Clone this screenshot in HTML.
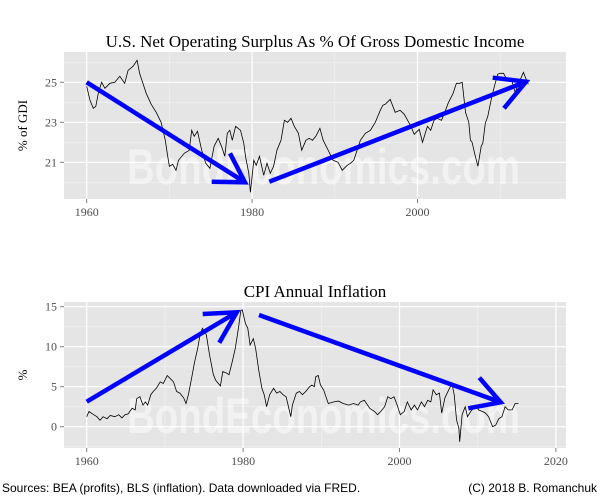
<!DOCTYPE html>
<html><head><meta charset="utf-8"><style>
body{margin:0;background:#fff;}
svg{display:block;}
text{font-family:"Liberation Serif",serif;}
</style></head><body>
<svg id="c" width="600" height="500"></svg>
<script>
const topYears=[1960,1960.4,1960.8,1961.1,1961.4,1961.8,1962.2,1962.8,1963.4,1964,1964.6,1965,1965.6,1966.1,1966.4,1966.8,1967.2,1967.8,1968.4,1969,1969.5,1969.8,1970,1970.4,1970.8,1971.1,1971.8,1972.4,1972.7,1973,1973.4,1973.9,1974.4,1974.9,1975.4,1975.9,1976.3,1976.7,1977,1977.3,1977.6,1978,1978.6,1979,1979.2,1979.6,1979.8,1980.2,1980.5,1980.9,1981.4,1981.8,1982.2,1982.6,1983,1983.5,1983.9,1984.3,1984.7,1985.1,1985.6,1986,1986.5,1986.9,1987.3,1987.7,1988.2,1988.6,1989.2,1989.8,1990.4,1990.9,1991.5,1991.9,1992.3,1992.7,1993.1,1993.7,1994.3,1994.9,1995.5,1995.8,1996.1,1996.7,1997.3,1997.9,1998.4,1998.8,1999.2,1999.6,2000.2,2000.6,2001.2,2001.6,2002,2002.4,2002.9,2003.3,2003.7,2004.3,2004.7,2005.1,2005.4,2005.8,2006.2,2006.4,2006.6,2006.9,2007.3,2007.7,2007.9,2008.2,2008.5,2008.7,2009,2009.3,2009.7,2010,2010.4,2010.8,2011.4,2011.8,2012.4,2012.8,2013.1,2013.4,2013.7,2014,2014.3,2014.6,2014.9],
topVals=[24.8,24.1,23.7,23.8,24.45,25.0,24.7,24.95,25.0,25.3,24.95,25.6,25.8,26.1,25.45,24.95,24.45,23.9,23.5,23.0,22.1,21.3,20.8,20.9,20.6,21.1,21.45,21.6,22.6,22.3,22.55,21.6,20.95,20.7,21.8,22.2,21.8,21.3,22.45,22.6,22.1,22.8,22.6,21.95,21.3,20.45,19.5,21.1,20.85,21.3,20.35,20.95,20.45,20.8,21.6,22.1,23.1,23.0,23.2,22.8,22.45,21.6,22.1,22.2,22.1,22.3,22.7,22.1,21.6,21.1,21.0,20.6,20.85,20.95,21.1,21.6,22.1,22.45,22.6,23.0,23.6,23.85,23.9,24.15,23.5,23.6,23.4,23.1,22.8,22.4,22.65,22.0,22.8,22.6,23.1,23.2,23.1,23.5,23.95,24.45,24.95,24.95,25.0,23.5,23.0,22.1,22.0,21.45,20.8,21.8,21.95,22.95,23.3,23.7,24.3,24.8,25.4,25.45,25.45,25.15,25.1,24.5,25.1,25.5,25.2,24.9];
const cpiYears=[1960,1960.3,1960.9,1961.3,1961.7,1962.1,1962.6,1963,1963.6,1964.1,1964.5,1964.9,1965.3,1965.8,1966.2,1966.4,1966.8,1967.2,1967.5,1967.8,1968.2,1968.5,1968.9,1969.4,1969.8,1970.3,1970.7,1971.1,1971.5,1971.9,1972.4,1972.7,1973,1973.4,1973.8,1974.2,1974.5,1974.8,1975.3,1975.7,1976.2,1976.5,1977.1,1977.4,1977.9,1978.2,1978.6,1979,1979.4,1979.7,1979.9,1980.3,1980.6,1980.9,1981.3,1981.6,1982,1982.4,1982.7,1983,1983.4,1983.9,1984.3,1984.7,1985.1,1985.5,1985.9,1986.1,1986.3,1986.8,1987.2,1987.6,1988,1988.5,1988.8,1989.1,1989.3,1989.6,1989.9,1990.3,1990.9,1991.6,1992.2,1992.8,1993.5,1994.1,1994.7,1995,1995.5,1996.2,1996.8,1997.2,1997.6,1998.1,1998.5,1998.9,1999.3,1999.7,2000.1,2000.6,2001,2001.5,2001.9,2002.3,2002.8,2003.2,2003.6,2004,2004.3,2004.7,2005.1,2005.4,2005.8,2006.1,2006.4,2006.7,2007,2007.3,2007.6,2007.7,2008,2008.4,2008.7,2009.1,2009.5,2009.8,2010.1,2010.6,2011,2011.4,2011.9,2012.3,2012.7,2013.1,2013.5,2013.9,2014.4,2014.8,2015.2,2015.6,2016,2016.5,2016.9,2017.3,2017.8],
cpiVals=[1.25,1.9,1.5,1.25,0.8,1.25,1.0,1.4,1.25,1.5,1.1,1.5,1.6,2.3,2.1,3.5,3.75,2.7,3.1,2.7,4.0,4.4,4.8,5.6,5.4,6.4,6.0,5.6,4.4,4.2,3.6,2.9,4.0,6.0,8.1,9.8,11.5,12.3,11.5,9.0,6.5,5.8,5.1,6.9,6.7,6.5,8.1,9.8,12.3,14.5,14.6,12.9,12.3,10.2,11.0,9.8,7.1,4.8,4.0,2.5,4.0,4.8,4.2,4.4,4.0,3.75,2.1,1.25,2.7,4.2,4.4,4.0,4.4,5.0,5.2,5.0,6.25,6.4,5.2,4.6,2.9,3.1,3.2,2.9,2.7,2.9,2.7,3.1,3.3,2.3,1.9,1.5,1.9,2.5,3.75,3.5,3.75,2.7,1.5,1.9,3.1,2.1,2.7,2.1,3.1,2.5,3.3,3.1,4.6,4.0,4.2,1.7,3.6,4.2,4.8,5.4,4.0,0.8,-0.2,-1.9,1.5,2.5,1.25,1.9,2.3,2.7,2.1,1.9,1.7,1.25,0,0.2,1.0,1.25,2.5,2.1,2.1,2.9,2.9];
const topYTicks=[21,23,25], topXTicks=[1960,1980,2000];
const cpiYTicks=[0,5,10,15], cpiXTicks=[1960,1980,2000,2020];

const S=document.getElementById('c');const NS='http://www.w3.org/2000/svg';
function mk(t,a,p){const e=document.createElementNS(NS,t);for(const k in a)e.setAttribute(k,a[k]);(p||S).appendChild(e);return e;}
function panel(o){
  const g=mk('g',{});
  
  
  const X=y=>o.x0+(y-o.yr0)*o.xs, Y=v=>o.y0-(v-o.v0)*o.ys;
  mk('rect',{x:64,y:o.top,width:502,height:o.bot-o.top,fill:'#e5e5e5'},g);
  for(let v=o.gmin;v<=o.gmax+1e-9;v+=o.gstep){const y=Y(v);if(y<o.top||y>o.bot)continue;
    const major=o.yt.some(t=>Math.abs(t-v)<1e-6);
    mk('line',{x1:64,x2:566,y1:y,y2:y,stroke:major?'#fff':'#f2f2f2','stroke-width':major?1.2:0.6},g);}
  for(let yr=1950;yr<=2030;yr+=10){const x=X(yr);if(x<64||x>566)continue;
    const major=yr%20==0;
    mk('line',{x1:x,x2:x,y1:o.top,y2:o.bot,stroke:major?'#fff':'#f2f2f2','stroke-width':major?1.2:0.6},g);}
  const wm=mk('text',{x:127,y:o.wmY,'font-size':50,'font-weight':'bold',fill:'#fff','fill-opacity':0.5,textLength:393,lengthAdjust:'spacingAndGlyphs',style:'font-family:"Liberation Sans Narrow","Liberation Sans",sans-serif'},g);
  wm.textContent='BondEconomics.com';
  
  
  o.yt.forEach(v=>{const y=Y(v);
    mk('line',{x1:60,x2:64,y1:y,y2:y,stroke:'#7f7f7f'},g);
    const t=mk('text',{x:57,y:y+4,'text-anchor':'end','font-size':12,fill:'#4d4d4d'},g);t.textContent=v;
    
    });
  o.xt.forEach(yr=>{const x=X(yr);
    mk('line',{x1:x,x2:x,y1:o.bot,y2:o.bot+4,stroke:'#7f7f7f'},g);
    const t=mk('text',{x:x,y:o.bot+17,'text-anchor':'middle','font-size':12,fill:'#4d4d4d'},g);t.textContent=yr;
    
    });
  const d=o.years.map((yr,i)=>(i?'L':'M')+X(yr).toFixed(1)+','+Y(o.vals[i]).toFixed(1)).join('');
  const p=mk('path',{d:d,fill:'none',stroke:'#000','stroke-width':0.8},g);
  
  
  o.arrows.forEach(a=>{
    const ag=mk('g',{stroke:'#0000ff','stroke-width':4.5,'stroke-linecap':'butt',fill:'none'},g);
    
    
    mk('path',{d:`M${a[0]},${a[1]}L${a[2]},${a[3]}M${a[4]},${a[5]}L${a[2]},${a[3]}L${a[6]},${a[7]}`},ag);
  });
  const tt=mk('text',{x:315,y:o.titleY,'text-anchor':'middle','font-size':17,fill:'#000'},g);tt.textContent=o.title;
  
  
  const yl=mk('text',{x:0,y:0,'text-anchor':'middle','font-size':13,fill:'#000',transform:`translate(27,${(o.top+o.bot)/2}) rotate(-90)`},g);yl.textContent=o.ylab;
  
  
}
panel({name:'gdi-panel',top:52,bot:199,x0:86.7,yr0:1960,xs:8.27,y0:82.3,v0:25,ys:20,gmin:19,gmax:27,gstep:1,yt:topYTicks,xt:topXTicks,years:topYears,vals:topVals,wmY:184,
 title:'U.S. Net Operating Surplus As % Of Gross Domestic Income',titleY:47,ylab:'% of GDI',
 arrows:[[86.7,82.3,245,182.3,230,153.3,211.7,181.7],[269.3,181.7,526,81.7,492.7,77.7,504,108.3]]});
panel({name:'cpi-panel',top:302,bot:448,x0:86.7,yr0:1960,xs:7.82,y0:426.7,v0:0,ys:8,gmin:-2.5,gmax:17.5,gstep:2.5,yt:cpiYTicks,xt:cpiXTicks,years:cpiYears,vals:cpiVals,wmY:433,
 title:'CPI Annual Inflation',titleY:297,ylab:'%',
 arrows:[[86.7,401.7,236.7,312.3,202.7,314,219.3,342.7],[259,315,500.7,402.3,479.3,377.7,468.3,408.3]]});
const f1=mk('text',{x:2,y:492,'font-size':12,fill:'#000',style:'font-family:"Liberation Sans",sans-serif'});f1.textContent='Sources: BEA (profits), BLS (inflation). Data downloaded via FRED.';


const f2=mk('text',{x:597,y:492,'text-anchor':'end','font-size':12,fill:'#000',style:'font-family:"Liberation Sans",sans-serif'});f2.textContent='(C) 2018 B. Romanchuk';


</script>
</body></html>
